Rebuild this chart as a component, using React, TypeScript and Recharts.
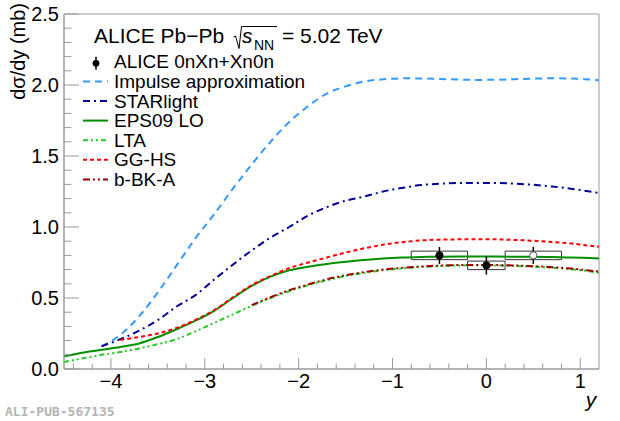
import {
  ComposedChart,
  Line,
  Scatter,
  ErrorBar,
  XAxis,
  YAxis,
  ReferenceArea,
} from "recharts";

// rapidity grid for the model curves
const RAPIDITY = [
  -4.5, -4.3, -4.1, -3.9, -3.7, -3.5, -3.3, -3.1, -2.9, -2.7, -2.5, -2.3, -2.1,
  -1.9, -1.7, -1.5, -1.3, -1.1, -0.9, -0.7, -0.5, -0.3, -0.1, 0.1, 0.3, 0.5,
  0.7, 0.9, 1.1, 1.2,
];

const IMPULSE = [
  null, null, 0.16, 0.24, 0.37, 0.54, 0.73, 0.92, 1.09, 1.27, 1.44, 1.6, 1.74,
  1.85, 1.94, 1.99, 2.025, 2.04, 2.047, 2.046, 2.043, 2.038, 2.036, 2.037,
  2.041, 2.045, 2.047, 2.046, 2.038, 2.033,
];
const STARLIGHT = [
  null, null, 0.16, 0.21, 0.27, 0.345, 0.44, 0.52, 0.63, 0.735, 0.835, 0.925,
  1.0, 1.08, 1.14, 1.185, 1.215, 1.25, 1.275, 1.295, 1.305, 1.31, 1.31, 1.31,
  1.305, 1.297, 1.285, 1.27, 1.25, 1.24,
];
const EPS09 = [
  0.09, 0.115, 0.135, 0.155, 0.18, 0.225, 0.28, 0.34, 0.41, 0.5, 0.585, 0.65,
  0.695, 0.72, 0.74, 0.755, 0.768, 0.778, 0.785, 0.789, 0.791, 0.792, 0.792,
  0.792, 0.791, 0.79, 0.788, 0.785, 0.781, 0.779,
];
const LTA = [
  0.05, 0.075, 0.1, 0.12, 0.145, 0.175, 0.21, 0.265, 0.325, 0.385, 0.445, 0.5,
  0.548, 0.59, 0.625, 0.655, 0.677, 0.695, 0.708, 0.718, 0.725, 0.729, 0.73,
  0.729, 0.726, 0.72, 0.713, 0.703, 0.688, 0.678,
];
const GGHS = [
  null, null, null, 0.205, 0.225, 0.25, 0.29, 0.345, 0.415, 0.505, 0.59, 0.655,
  0.71, 0.75, 0.785, 0.82, 0.85, 0.875, 0.893, 0.905, 0.911, 0.913, 0.914,
  0.913, 0.909, 0.903, 0.895, 0.884, 0.868, 0.86,
];
const BBKA = [
  null, null, null, null, null, null, null, null, null, null, 0.45, 0.505,
  0.555, 0.595, 0.632, 0.66, 0.682, 0.7, 0.712, 0.722, 0.728, 0.732, 0.733,
  0.732, 0.729, 0.724, 0.717, 0.707, 0.693, 0.685,
];

// ALICE measurement
const POINT_Y = [-0.5, 0, 0.5];
const POINT_XSEC = [0.8, 0.73, 0.8];
const POINT_STAT = [0.06, 0.065, 0.06];
const POINT_SYST = [0.03, 0.03, 0.03];
const POINT_BIN_HALF = [0.3, 0.2, 0.3];
const POINT_OPEN = [false, false, true];

const X_TICKS = [
  -4.4, -4.2, -4, -3.8, -3.6, -3.4, -3.2, -3, -2.8, -2.6, -2.4, -2.2, -2, -1.8,
  -1.6, -1.4, -1.2, -1, -0.8, -0.6, -0.4, -0.2, 0, 0.2, 0.4, 0.6, 0.8, 1,
];
const Y_TICKS = [
  0, 0.1, 0.2, 0.3, 0.4, 0.5, 0.6, 0.7, 0.8, 0.9, 1, 1.1, 1.2, 1.3, 1.4, 1.5,
  1.6, 1.7, 1.8, 1.9, 2, 2.1, 2.2, 2.3, 2.4, 2.5,
];

const FONT = "'Liberation Sans', Arial, Helvetica, sans-serif";
const AXIS_GREY = "#9a9a9a";

const SERIES = [
  { key: "impulse", label: "Impulse approximation", color: "#3399ff", dash: "7 5", values: IMPULSE },
  { key: "starlight", label: "STARlight", color: "#000099", dash: "7 4 2 4", values: STARLIGHT },
  { key: "eps09", label: "EPS09 LO", color: "#009000", dash: undefined, values: EPS09 },
  { key: "lta", label: "LTA", color: "#22cc22", dash: "5 3 2 3 2 3", values: LTA },
  { key: "gghs", label: "GG-HS", color: "#ff0000", dash: "4 3", values: GGHS },
  { key: "bbka", label: "b-BK-A", color: "#990000", dash: "7 3 2 3 2 3", values: BBKA },
];

const curveData = RAPIDITY.map((x, i) => {
  const row: any = { x };
  SERIES.forEach((s) => {
    row[s.key] = s.values[i];
  });
  return row;
});

const points = POINT_Y.map((x, i) => ({
  x,
  y: POINT_XSEC[i],
  err: POINT_STAT[i],
  open: POINT_OPEN[i],
}));

const XTick = (props: any) => {
  const { x, y, payload } = props;
  const v = payload.value;
  const major = Math.abs(v - Math.round(v)) < 1e-6;
  const label = v < 0 ? `\u2212${Math.abs(v)}` : `${v}`;
  return (
    <g>
      <line x1={x} x2={x} y1={y} y2={y - (major ? 11 : 5.5)} stroke={AXIS_GREY} />
      {major && (
        <text x={x} y={y + 19} textAnchor="middle" fontSize={20} fontFamily={FONT} fill="#000">
          {label}
        </text>
      )}
    </g>
  );
};

const YTick = (props: any) => {
  const { x, y, payload } = props;
  const v = payload.value;
  const major = Math.abs(v * 2 - Math.round(v * 2)) < 1e-6;
  return (
    <g>
      <line x1={x} x2={x + (major ? 15 : 7.5)} y1={y} y2={y} stroke={AXIS_GREY} />
      {major && (
        <text x={x - 5} y={y + 7} textAnchor="end" fontSize={20} fontFamily={FONT} fill="#000">
          {v.toFixed(1)}
        </text>
      )}
    </g>
  );
};

const Marker = (props: any) => {
  const { cx, cy, payload } = props;
  return (
    <circle
      cx={cx}
      cy={cy}
      r={3.6}
      fill={payload.open ? "#fff" : "#000"}
      stroke={payload.open ? "#555" : "#000"}
      strokeWidth={1}
    />
  );
};

const LEGEND_X0 = 83;
const LEGEND_X1 = 108;
const LEGEND_TEXT_X = 114;
const LEGEND_BASE = 68.3;
const LEGEND_STEP = 19.6;

function Overlay() {
  return (
    <svg
      width={620}
      height={421}
      style={{ position: "absolute", left: 0, top: 0, pointerEvents: "none" }}
      fontFamily={FONT}
    >
      <text transform="translate(25,3) rotate(-90)" textAnchor="end" fontSize={20} fill="#000">
        dσ/dy (mb)
      </text>
      <text x={591} y={407} textAnchor="middle" fontSize={21} fontStyle="italic" fill="#000">
        y
      </text>
      <text
        x={5}
        y={416}
        fontSize={13}
        fontWeight="bold"
        fontFamily="'DejaVu Sans Mono', 'Liberation Mono', monospace"
        fill="#b4b4b4"
      >
        ALI-PUB-567135
      </text>

      {/* title */}
      <text x={94} y={43.3} fontSize={21} fill="#000">
        ALICE Pb−Pb
      </text>
      <path d="M233.5,37 L235.5,36 L239,48.5 L241.5,26.5 L277,26.5" fill="none" stroke="#000" strokeWidth={1} />
      <text x={242} y={43.3} fontSize={21} fontStyle="italic" fill="#000">
        s
      </text>
      <text x={254} y={50} fontSize={14} fill="#000">
        NN
      </text>
      <text x={282} y={43.3} fontSize={21} fill="#000">
        = 5.02 TeV
      </text>

      {/* legend */}
      <line x1={96} x2={96} y1={LEGEND_BASE - 11.5} y2={LEGEND_BASE + 1.5} stroke="#000" strokeWidth={1.5} />
      <circle cx={96} cy={LEGEND_BASE - 5} r={3.4} fill="#000" />
      <text x={LEGEND_TEXT_X} y={LEGEND_BASE} fontSize={19} fill="#000">
        ALICE 0nXn+Xn0n
      </text>
      {SERIES.map((s, i) => {
        const base = LEGEND_BASE + (i + 1) * LEGEND_STEP;
        return (
          <g key={s.key}>
            <line
              x1={LEGEND_X0}
              x2={LEGEND_X1}
              y1={base - 6.5}
              y2={base - 6.5}
              stroke={s.color}
              strokeWidth={2}
              strokeDasharray={s.dash}
            />
            <text x={LEGEND_TEXT_X} y={base} fontSize={19} fill="#000">
              {s.label}
            </text>
          </g>
        );
      })}
    </svg>
  );
}

export default function App() {
  return (
    <div style={{ position: "absolute", left: 0, top: 0, width: 620, height: 421, background: "#fff" }}>
      <ComposedChart
        width={620}
        height={421}
        data={curveData}
        margin={{ top: 14, right: 21, bottom: 0, left: 0 }}
      >
        <XAxis
          dataKey="x"
          type="number"
          domain={[-4.5, 1.2]}
          ticks={X_TICKS}
          interval={0}
          tick={XTick}
          tickLine={false}
          tickSize={0}
          tickMargin={0}
          axisLine={{ stroke: AXIS_GREY }}
          height={52}
          allowDataOverflow
        />
        <YAxis
          type="number"
          domain={[0, 2.5]}
          ticks={Y_TICKS}
          interval={0}
          tick={YTick}
          tickLine={false}
          tickSize={0}
          tickMargin={0}
          axisLine={{ stroke: AXIS_GREY }}
          width={64}
          allowDataOverflow
        />
        <ReferenceArea
          x1={-4.5}
          x2={1.2}
          y1={0}
          y2={2.5}
          fill="none"
          stroke={AXIS_GREY}
          strokeWidth={1}
        />
        {points.map((p, i) => (
          <ReferenceArea
            key={`box-${i}`}
            x1={p.x - POINT_BIN_HALF[i]}
            x2={p.x + POINT_BIN_HALF[i]}
            y1={p.y - POINT_SYST[i]}
            y2={p.y + POINT_SYST[i]}
            fill="none"
            stroke="#333"
            strokeWidth={1}
          />
        ))}
        {SERIES.map((s) => (
          <Line
            key={s.key}
            dataKey={s.key}
            type="monotone"
            stroke={s.color}
            strokeWidth={2}
            strokeDasharray={s.dash}
            dot={false}
            activeDot={false}
            isAnimationActive={false}
          />
        ))}
        <Scatter data={points} dataKey="y" shape={Marker} isAnimationActive={false}>
          <ErrorBar dataKey="err" direction="y" width={0} stroke="#000" strokeWidth={1.5} />
        </Scatter>
      </ComposedChart>
      <Overlay />
    </div>
  );
}
